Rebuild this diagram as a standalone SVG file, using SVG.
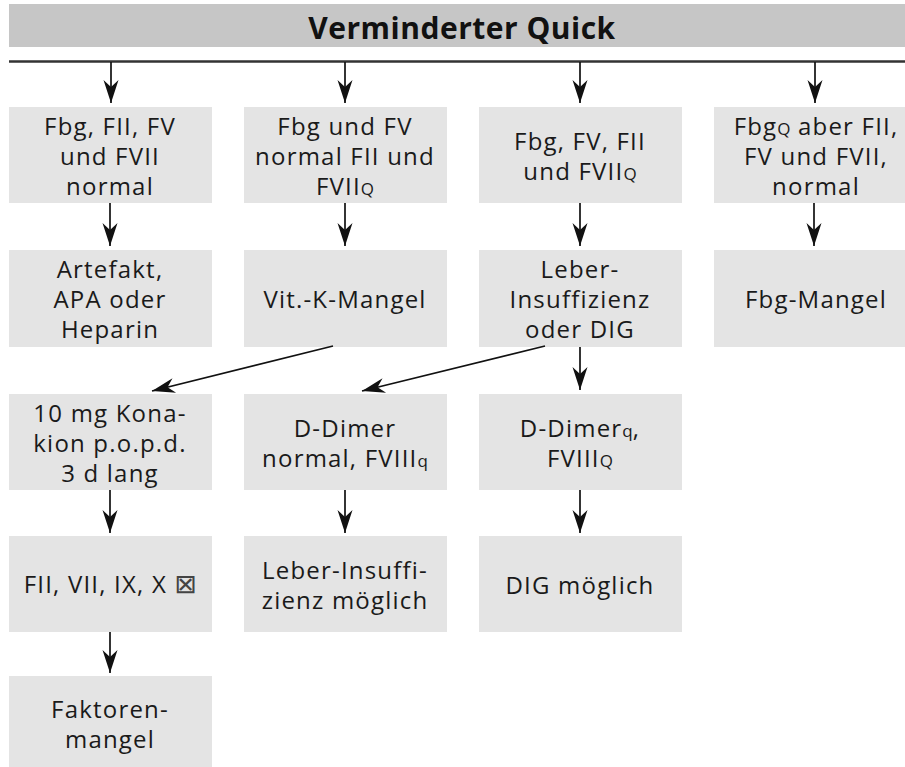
<svg xmlns="http://www.w3.org/2000/svg" width="905" height="767" viewBox="0 0 905 767">
<style>
.box{fill:#e4e4e4}
.t{font-family:"Open Sans","Noto Sans","Liberation Sans",sans-serif;font-size:24px;letter-spacing:1.2px;fill:#1a1a1a;text-anchor:middle}
.s{font-size:17px;letter-spacing:0}
.h{font-family:"Open Sans","Noto Sans","Liberation Sans",sans-serif;font-size:30px;font-weight:bold;letter-spacing:0.5px;fill:#111;text-anchor:middle}
.c{stroke:#111;stroke-width:1.7;fill:none}
</style>
<defs>
<marker id="ah" markerUnits="userSpaceOnUse" markerWidth="26" markerHeight="18" viewBox="-24 -9 26 18" refX="0" refY="0" orient="auto">
<path d="M0,0 L-23,-7.5 L-16,0 L-23,7.5 Z" fill="#111"/>
</marker>
</defs>
<g id="header">
<rect x="9" y="4" width="896" height="43" fill="#c6c6c6"/>
<text class="h" x="462" y="39">Verminderter Quick</text>
</g>
<line x1="9" y1="61.5" x2="905" y2="61.5" stroke="#333" stroke-width="2.5"/>

<g id="n1"><rect class="box" x="9" y="107" width="203" height="96"/>
<text class="t" x="110" y="135">Fbg, FII, FV</text><text class="t" x="110" y="165">und FVII</text><text class="t" x="110" y="195">normal</text></g>
<g id="n2"><rect class="box" x="244" y="107" width="203" height="96"/>
<text class="t" x="345" y="135">Fbg und FV</text><text class="t" x="345" y="165">normal FII und</text><text class="t" x="345" y="195">FVII<tspan class="s">Q</tspan></text></g>
<g id="n3"><rect class="box" x="479" y="107" width="203" height="96"/>
<text class="t" x="580" y="150">Fbg, FV, FII</text><text class="t" x="580" y="180">und FVII<tspan class="s">Q</tspan></text></g>
<g id="n4"><rect class="box" x="714" y="107" width="203" height="96"/>
<text class="t" x="816" y="135">Fbg<tspan class="s">Q</tspan> aber FII,</text><text class="t" x="816" y="165">FV und FVII,</text><text class="t" x="816" y="195">normal</text></g>

<g id="n5"><rect class="box" x="9" y="250" width="203" height="97"/>
<text class="t" x="110" y="278">Artefakt,</text><text class="t" x="110" y="308">APA oder</text><text class="t" x="110" y="338">Heparin</text></g>
<g id="n6"><rect class="box" x="244" y="250" width="203" height="97"/>
<text class="t" x="345" y="308">Vit.-K-Mangel</text></g>
<g id="n7"><rect class="box" x="479" y="250" width="203" height="97"/>
<text class="t" x="580" y="278">Leber-</text><text class="t" x="580" y="308">Insuffizienz</text><text class="t" x="580" y="338">oder DIG</text></g>
<g id="n8"><rect class="box" x="714" y="250" width="203" height="97"/>
<text class="t" x="816" y="308">Fbg-Mangel</text></g>

<g id="n9"><rect class="box" x="9" y="394" width="203" height="96"/>
<text class="t" x="110" y="422">10 mg Kona-</text><text class="t" x="110" y="452">kion p.o.p.d.</text><text class="t" x="110" y="482">3 d lang</text></g>
<g id="n10"><rect class="box" x="244" y="394" width="203" height="96"/>
<text class="t" x="345" y="437">D-Dimer</text><text class="t" x="345" y="467">normal, FVIII<tspan class="s">q</tspan></text></g>
<g id="n11"><rect class="box" x="479" y="394" width="203" height="96"/>
<text class="t" x="580" y="437">D-Dimer<tspan class="s">q</tspan>,</text><text class="t" x="580" y="467">FVIII<tspan class="s">Q</tspan></text></g>

<g id="n12"><rect class="box" x="9" y="536" width="203" height="96"/>
<text class="t" x="111" y="593">FII, VII, IX, X <tspan style="font-family:'DejaVu Sans',sans-serif;font-size:27px;fill:#444">⊠</tspan></text></g>
<g id="n13"><rect class="box" x="244" y="536" width="203" height="96"/>
<text class="t" x="345" y="579">Leber-Insuffi-</text><text class="t" x="345" y="609">zienz möglich</text></g>
<g id="n14"><rect class="box" x="479" y="536" width="203" height="96"/>
<text class="t" x="580" y="594">DIG möglich</text></g>

<g id="n15"><rect class="box" x="9" y="676" width="203" height="96"/>
<text class="t" x="110" y="718">Faktoren-</text><text class="t" x="110" y="748">mangel</text></g>

<g id="connectors" class="c" marker-end="url(#ah)">
<line x1="111" y1="62" x2="111" y2="103"/>
<line x1="345" y1="62" x2="345" y2="103"/>
<line x1="580" y1="62" x2="580" y2="103"/>
<line x1="815" y1="62" x2="815" y2="103"/>
<line x1="110" y1="203" x2="110" y2="246"/>
<line x1="345" y1="203" x2="345" y2="246"/>
<line x1="580" y1="203" x2="580" y2="246"/>
<line x1="814" y1="203" x2="814" y2="246"/>
<line x1="333" y1="346" x2="152" y2="391"/>
<line x1="545" y1="346" x2="362" y2="391"/>
<line x1="580" y1="347" x2="580" y2="390"/>
<line x1="110" y1="490" x2="110" y2="533"/>
<line x1="345" y1="490" x2="345" y2="533"/>
<line x1="580" y1="490" x2="580" y2="533"/>
<line x1="110" y1="632" x2="110" y2="673"/>
</g>
</svg>
